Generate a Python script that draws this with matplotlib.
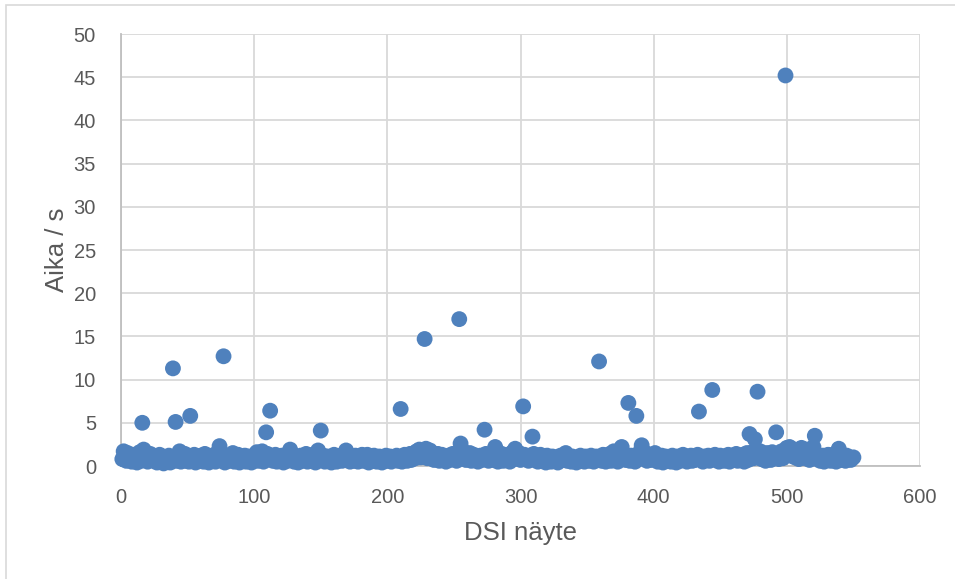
import matplotlib
matplotlib.use("Agg")
import matplotlib.pyplot as plt
from matplotlib.patches import Rectangle

plt.rcParams['font.family'] = ['Liberation Sans Narrow', 'Liberation Sans', 'DejaVu Sans']

# Measured times (s) for DSI samples 1..550
aika = [
    0.8,1.7,1.2,0.6,1.5,0.9,1.1,0.5,1.3,0.7,1.0,0.4,0.9,1.6,0.6,5.0,1.9,0.8,1.2,0.5,1.0,1.4,0.7,0.9,0.6,
    1.1,0.4,0.8,1.3,0.5,0.9,0.3,0.7,1.0,0.6,1.2,0.4,0.8,11.3,0.9,5.1,0.6,1.0,1.7,0.5,1.2,0.8,1.4,0.6,0.9,
    0.5,5.8,1.1,0.7,1.3,0.4,0.9,1.0,0.6,1.2,0.8,0.5,1.4,0.7,1.0,0.4,0.9,1.1,0.6,1.3,0.5,0.8,1.6,2.3,0.7,
    1.0,12.7,0.4,0.9,1.2,0.6,0.8,1.1,1.5,0.5,0.9,0.7,1.3,0.4,1.0,0.8,0.6,1.2,0.5,0.9,1.1,0.7,0.4,1.0,0.8,
    1.3,1.6,0.6,0.9,1.2,1.7,0.5,1.0,3.9,1.4,0.8,6.4,1.1,0.6,0.9,1.3,0.5,0.8,1.0,0.7,1.2,0.4,0.9,1.1,0.6,
    1.0,1.9,0.7,1.3,0.5,0.9,1.1,0.4,0.8,1.2,0.6,1.0,0.7,1.4,0.5,0.9,1.1,0.6,1.3,0.8,0.4,1.0,1.8,0.7,4.1,
    0.9,1.2,0.5,0.8,1.1,0.6,1.0,0.4,0.9,1.3,0.7,0.5,1.0,0.8,1.2,0.6,0.9,1.4,1.8,0.7,1.0,0.5,1.1,0.8,0.6,
    1.2,0.9,0.5,1.0,0.7,1.3,0.6,0.9,1.1,1.3,0.4,0.8,1.0,0.6,1.2,0.7,0.5,0.9,1.1,0.8,0.4,1.0,0.7,1.2,0.6,
    0.9,1.1,0.5,0.8,1.0,0.7,1.2,0.6,0.9,6.6,0.5,1.0,1.3,0.8,0.6,1.1,1.4,0.7,1.0,1.5,0.9,1.7,1.2,1.9,1.0,
    1.6,1.2,14.7,2.0,0.9,1.3,1.8,1.1,1.5,0.7,1.2,0.9,1.4,0.6,1.0,1.3,0.8,1.1,0.5,0.9,1.2,0.7,1.0,1.4,0.8,
    1.1,0.6,1.5,17.0,2.6,1.9,1.0,1.3,0.7,1.2,0.9,1.5,0.6,1.0,1.3,0.8,1.1,0.5,0.9,1.2,0.7,1.0,4.2,1.4,0.8,
    0.6,1.1,0.9,1.3,0.7,2.2,1.0,0.5,1.2,0.8,1.4,0.6,0.9,1.1,0.7,1.3,0.5,1.0,1.6,0.8,2.0,1.2,0.9,1.5,0.7,
    1.1,6.9,1.3,0.8,1.0,0.6,1.2,0.9,3.4,1.4,0.7,1.1,0.5,0.9,1.3,0.6,1.0,0.8,0.4,1.2,0.7,0.9,0.5,1.1,0.8,
    0.6,1.0,0.4,0.8,1.2,0.7,0.9,1.3,1.5,0.6,1.0,0.8,0.5,1.1,0.7,0.9,0.4,1.0,0.8,1.2,0.6,0.9,0.5,1.1,0.7,
    1.0,0.6,1.2,0.8,0.5,0.9,1.1,0.7,12.1,1.0,0.6,1.3,0.9,0.5,1.1,0.8,1.4,0.6,1.0,1.7,0.8,1.2,0.5,1.0,1.6,
    2.2,0.9,1.3,0.7,1.0,7.3,0.6,1.2,0.8,1.1,0.5,5.8,1.0,1.4,1.7,2.4,1.2,0.8,1.5,0.6,1.0,1.3,0.7,0.9,1.2,
    1.5,0.8,0.5,1.0,0.7,1.2,0.4,0.9,1.1,0.6,0.8,1.0,0.5,1.2,0.7,0.9,0.4,1.1,0.8,0.6,1.0,1.3,0.7,0.9,0.5,
    1.1,0.8,1.2,0.6,1.0,0.7,0.9,1.3,6.3,0.8,1.0,0.5,1.1,0.7,0.9,1.2,0.6,1.0,8.8,0.8,1.3,0.7,1.0,0.5,1.2,
    0.9,1.1,0.6,1.0,0.8,1.3,0.5,0.9,1.2,0.7,1.0,1.4,0.6,0.9,1.1,0.8,1.3,0.5,1.0,1.5,0.7,3.7,1.2,1.6,0.9,
    3.1,1.4,8.6,1.0,1.7,0.8,1.3,1.1,0.6,1.5,0.9,1.2,0.7,1.6,1.0,1.4,3.9,1.1,0.8,1.3,1.7,0.9,1.5,45.2,2.1,
    1.8,2.2,1.2,2.0,1.5,1.0,1.7,1.3,0.8,1.6,2.1,1.1,1.4,0.9,1.9,1.2,0.7,1.5,1.0,2.2,3.5,1.3,0.8,1.1,0.6,
    0.9,1.2,0.5,1.0,0.7,1.3,0.9,0.6,1.1,0.8,1.4,0.5,1.0,2.0,1.3,0.7,1.1,0.9,0.6,1.2,0.8,1.0,0.7,0.9,1.0,
]
naytteet = list(range(1, len(aika) + 1))

x_ticks = [0, 100, 200, 300, 400, 500, 600]
y_ticks = [0, 5, 10, 15, 20, 25, 30, 35, 40, 45, 50]
x_label = "DSI näyte"
y_label = "Aika / s"

W, H = 955, 579
fig = plt.figure(figsize=(W / 100, H / 100), dpi=100)
fig.patch.set_facecolor('white')
# outer chart border (only left/top visible in the crop)
fig.patches.append(Rectangle((6 / W, -0.1), 1.2, (H - 5) / H + 0.1, transform=fig.transFigure,
                             fill=False, edgecolor='#D9D9D9', linewidth=1.2))

ax = fig.add_axes([121 / W, 1 - 466 / H, (920 - 121) / W, (466 - 34) / H])
ax.set_xlim(0, 600)
ax.set_ylim(0, 50)
ax.set_xticks(x_ticks)
ax.set_yticks(y_ticks)
ax.grid(True, color='#D9D9D9', linewidth=1.3)
ax.set_axisbelow(True)
for s in ['top', 'right']:
    ax.spines[s].set_visible(False)
for s in ['left', 'bottom']:
    ax.spines[s].set_color('#BFBFBF')
    ax.spines[s].set_linewidth(1.3)
ax.tick_params(axis='both', length=0, labelsize=14.5, labelcolor='#595959')
ax.tick_params(axis='y', pad=18)
ax.tick_params(axis='x', pad=16)

ax.scatter(naytteet, aika, s=130, color='#4F81BD', edgecolors='none', zorder=3, clip_on=False)

ax.set_xlabel(x_label, fontsize=18.5, color='#595959')
ax.set_ylabel(y_label, fontsize=18.5, color='#595959')
ax.xaxis.set_label_coords(0.5, -0.127)
ax.yaxis.set_label_coords(-0.080, 0.5)
ax.yaxis.label.set_va('center')

fig.savefig('out.png', dpi=100)
